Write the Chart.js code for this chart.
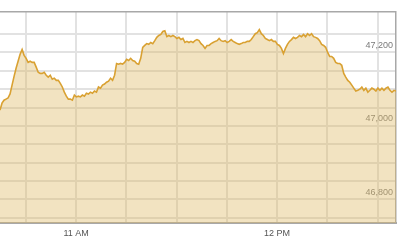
<!DOCTYPE html>
<html>
<head>
<meta charset="utf-8">
<script src="https://cdn.jsdelivr.net/npm/chart.js@4/dist/chart.umd.min.js"></script>
<style>
  html, body { margin: 0; padding: 0; background: #fff; }
  #wrap { width: 402px; height: 241px; position: relative; }
</style>
</head>
<body>
<div id="wrap"><canvas id="price-chart"></canvas></div>
<script>
// index level, sampled roughly every 36 seconds from 10:37 AM
const prices = [
  47043, 47062, 47070, 47073, 47076, 47087, 47111, 47135, 47157, 47176,
  47195, 47208, 47192, 47184, 47173, 47176, 47173, 47173, 47160, 47146,
  47143, 47143, 47146, 47138, 47133, 47138, 47127, 47130, 47124, 47124,
  47116, 47106, 47092, 47081, 47073, 47073, 47070, 47084, 47079, 47081,
  47079, 47084, 47081, 47089, 47087, 47092, 47089, 47095, 47092, 47106,
  47103, 47111, 47114, 47119, 47122, 47130, 47124, 47138, 47170, 47168,
  47170, 47168, 47173, 47181, 47178, 47184, 47178, 47176, 47170, 47168,
  47184, 47214, 47219, 47224, 47222, 47227, 47224, 47232, 47241, 47246,
  47249, 47257, 47259, 47243, 47246, 47243, 47246, 47243, 47238, 47241,
  47235, 47238, 47227, 47230, 47227, 47230, 47227, 47232, 47235, 47232,
  47224, 47219, 47211, 47219, 47219, 47224, 47227, 47230, 47232, 47238,
  47232, 47230, 47232, 47227, 47230, 47235, 47230, 47227, 47224, 47222,
  47224, 47227, 47227, 47230, 47230, 47235, 47243, 47251, 47254, 47262,
  47251, 47246, 47238, 47235, 47232, 47235, 47230, 47230, 47222, 47219,
  47211, 47197, 47211, 47222, 47230, 47235, 47241, 47238, 47241, 47246,
  47243, 47249, 47243, 47251, 47246, 47251, 47243, 47241, 47238, 47232,
  47222, 47219, 47214, 47200, 47189, 47189, 47184, 47173, 47170, 47170,
  47165, 47143, 47133, 47124, 47119, 47111, 47103, 47095, 47097, 47100,
  47106, 47097, 47103, 47092, 47097, 47103, 47100, 47095, 47103, 47097,
  47103, 47097, 47103, 47106, 47097, 47092, 47097, 47095
];
const startMinute = 637.3; // minutes after midnight
const stepMinutes = 0.6;
const xMin = 637.3;
const xMax = 755.5;
const yMin = 46736;
const yMax = 47310;

const xTickMinutes = [645, 660, 675, 690, 705, 720, 735, 750];
const xTickLabels = { 660: "11 AM", 720: "12 PM" };
const yGridValues = [46750, 46800, 46850, 46900, 46950, 47000, 47050, 47100, 47150, 47200, 47250];
const yTickLabels = { 46800: "46,800", 47000: "47,000", 47200: "47,200" };

const fontFamily = 'Arial, "Liberation Sans", sans-serif';

document.addEventListener("DOMContentLoaded", () => {
  const canvas = document.getElementById("price-chart");

  const points = prices.map((p, i) => ({ x: startMinute + i * stepMinutes, y: p }));

  new Chart(canvas, {
    type: "line",
    data: {
      datasets: [
        {
          data: points,
          borderColor: "#d9a132",
          borderWidth: 1.6,
          backgroundColor: "rgba(222, 186, 100, 0.4)",
          fill: "start",
          pointRadius: 0,
          tension: 0,
        },
      ],
    },
    options: {
      responsive: true,
      maintainAspectRatio: false,
      animation: false,
      layout: { padding: { top: 12, right: 6, left: 0, bottom: 2 } },
      plugins: {
        legend: { display: false },
        tooltip: { enabled: false },
      },
      scales: {
        x: {
          type: "linear",
          min: xMin,
          max: xMax,
          afterBuildTicks: (scale) => {
            scale.ticks = xTickMinutes.map((v) => ({ value: v }));
          },
          afterFit: (scale) => {
            scale.height = 16;
          },
          grid: { color: "#e2e2e2", lineWidth: 2, drawTicks: false },
          border: { display: true, color: "#a8a8a8", width: 2 },
          ticks: {
            autoSkip: false,
            maxRotation: 0,
            padding: 5,
            color: "#555",
            font: { family: fontFamily, size: 9 },
            callback: (v) => xTickLabels[v] || "",
          },
        },
        y: {
          type: "linear",
          position: "right",
          min: yMin,
          max: yMax,
          afterBuildTicks: (scale) => {
            scale.ticks = [yMax].concat(yGridValues).map((v) => ({ value: v }));
          },
          afterFit: (scale) => {
            scale.width = 0; // labels sit inside the plot
          },
          grid: {
            drawTicks: false,
            color: (ctx) => (ctx.tick && ctx.tick.value === yMax ? "#a8a8a8" : "#e2e2e2"),
            lineWidth: (ctx) => (ctx.tick && ctx.tick.value === yMax ? 1.5 : 2),
          },
          border: { display: true, color: "#a8a8a8", width: 1.5 },
          ticks: {
            mirror: true,
            padding: -3,
            labelOffset: -7,
            color: "#7a7a7a",
            font: { family: fontFamily, size: 9 },
            callback: (v) => yTickLabels[v] || "",
          },
        },
      },
    },
  });
});
</script>
</body>
</html>
